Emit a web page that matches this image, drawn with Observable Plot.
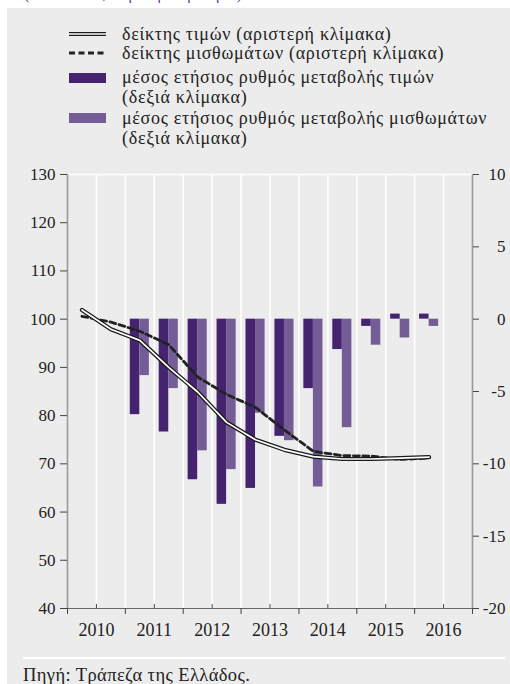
<!DOCTYPE html>
<html>
<head>
<meta charset="utf-8">
<script src="https://cdn.jsdelivr.net/npm/d3@7"></script>
<script src="https://cdn.jsdelivr.net/npm/@observablehq/plot@0.6"></script>
<style>
  html, body { margin: 0; padding: 0; background: #ffffff; }
  #wrap { position: relative; width: 510px; height: 684px; overflow: hidden; font-family: "Liberation Serif", "Times New Roman", Tinos, "DejaVu Serif", serif; color: #222; }
  #title { position: absolute; left: 24px; top: -15px; font-size: 16px; color: #5b3d91; white-space: nowrap; }
  #panel { position: absolute; left: 7px; top: 8px; width: 503px; height: 676px; background: #ececec; }
  .leg { position: absolute; left: 122px; font-size: 18px; line-height: 20px; letter-spacing: 0.7px; white-space: nowrap; }
  #chart { position: absolute; left: 0; top: 150px; }
  #chart svg text { font-family: "Liberation Serif", "Times New Roman", Tinos, "DejaVu Serif", serif; }
  #rule { position: absolute; left: 23px; top: 657px; width: 482px; height: 2px; background: #fff; }
  #caption { position: absolute; left: 23px; top: 665px; font-size: 18.5px; letter-spacing: 0.4px; white-space: nowrap; }
</style>
</head>
<body>
<div id="wrap">
  <div id="title">(2010 = 100, ετήσια μεταβολή %)</div>
  <div id="panel"></div>
  <div id="legend"></div>
  <div id="chart"></div>
  <div id="rule"></div>
  <div id="caption">Πηγή: Τράπεζα της Ελλάδος.</div>
</div>
<script>
// ---- data ----
const periods = ["2010-H1","2010-H2","2011-H1","2011-H2","2012-H1","2012-H2","2013-H1","2013-H2","2014-H1","2014-H2","2015-H1","2015-H2","2016-H1"];
const priceIndex = [101.9, 97.9, 95.6, 90.0, 84.9, 78.6, 75.0, 72.9, 71.5, 71.0, 71.0, 71.2, 71.4];
const rentIndex  = [100.6, 99.4, 97.5, 94.7, 88.0, 84.4, 81.7, 77.0, 72.6, 71.7, 71.6, 70.9, 71.2];
const barPeriods = ["2011-H1","2011-H2","2012-H1","2012-H2","2013-H1","2013-H2","2014-H1","2014-H2","2015-H1","2015-H2","2016-H1"];
const priceChange = [-6.6, -7.8, -11.1, -12.8, -11.7, -8.1, -4.8, -2.1, -0.5, 0.35, 0.35];
const rentChange  = [-3.9, -4.8, -9.1, -10.4, -6.5, -8.4, -11.6, -7.5, -1.8, -1.3, -0.5];
const years = [2010, 2011, 2012, 2013, 2014, 2015, 2016];
const leftTicks = [40, 50, 60, 70, 80, 90, 100, 110, 120, 130];
const rightTicks = [-20, -15, -10, -5, 0, 5, 10];
const legendLabels = [
  "δείκτης τιμών (αριστερή κλίμακα)",
  "δείκτης μισθωμάτων (αριστερή κλίμακα)",
  "μέσος ετήσιος ρυθμός μεταβολής τιμών",
  "(δεξιά κλίμακα)",
  "μέσος ετήσιος ρυθμός μεταβολής μισθωμάτων",
  "(δεξιά κλίμακα)"
];

// ---- colours ----
const darkPurple = "#46236f";
const lightPurple = "#745c97";

// ---- derived tables ----
const toX = p => +p.slice(0, 4) + (p.endsWith("H1") ? 0.25 : 0.75);
const lineData = periods.map((p, i) => ({x: toX(p), price: priceIndex[i], rent: rentIndex[i]}));
const barData = barPeriods.map((p, i) => ({x: toX(p), price: priceChange[i], rent: rentChange[i]}));
const rightToLeft = r => 100 + 3 * r; // right scale 0 ↔ left 100, 30 units ↔ 90 units
const bounds = years.concat([years[years.length - 1] + 1]);
const mids = years.map(y => y + 0.5);
const grid = years.flatMap(y => [y + 0.5, y + 1]).filter(v => v < bounds[bounds.length - 1]);
const barW = 0.165;

const chart = Plot.plot({
  width: 510,
  height: 490,
  marginLeft: 67,
  marginRight: 38,
  marginTop: 24,
  marginBottom: 32,
  style: {fontSize: "17px", color: "#222", background: "transparent", overflow: "visible"},
  x: {type: "linear", domain: [bounds[0], bounds[bounds.length - 1]], axis: null},
  y: {domain: [40, 130], axis: null},
  marks: [
    Plot.ruleX(grid, {stroke: "#ffffff", strokeWidth: 1.6}),
    Plot.ruleY([130], {stroke: "#ffffff", strokeWidth: 1.6}),
    Plot.rectY(barData, {x1: d => d.x - barW, x2: d => d.x, y1: d => 100, y2: d => rightToLeft(d.price), fill: darkPurple}),
    Plot.rectY(barData, {x1: d => d.x, x2: d => d.x + barW, y1: d => 100, y2: d => rightToLeft(d.rent), fill: lightPurple}),
    Plot.line(lineData, {x: "x", y: "rent", stroke: "#222", strokeWidth: 2.8, strokeDasharray: "6,3.5"}),
    Plot.line(lineData, {x: "x", y: "price", stroke: "#1a1a1a", strokeWidth: 4.2}),
    Plot.line(lineData, {x: "x", y: "price", stroke: "#ffffff", strokeWidth: 1.7}),
    Plot.ruleX([bounds[0], bounds[bounds.length - 1]], {stroke: "#9a9a9a", strokeWidth: 1.6}),
    Plot.ruleY([40], {stroke: "#666", strokeWidth: 1.2}),
    Plot.axisY({anchor: "left", ticks: leftTicks, tickSize: 7, tickPadding: 5, stroke: "#444", fill: "#222", label: null}),
    Plot.axisY({anchor: "right", ticks: rightTicks.map(rightToLeft), tickFormat: d => String(Math.round((d - 100) / 3)), tickSize: 6, tickPadding: 27, textAnchor: "end", stroke: "#444", fill: "#222", label: null}),
    Plot.axisX({anchor: "bottom", ticks: bounds, tickSize: 6, tickFormat: () => "", stroke: "#444", label: null}),
    Plot.axisX({anchor: "bottom", ticks: mids, tickSize: 4, dy: -4, tickFormat: () => "", stroke: "#444", label: null}),
    Plot.axisX({anchor: "bottom", ticks: mids, tickSize: 0, tickPadding: 15, tickFormat: d => String(Math.floor(d)), fill: "#222", fontSize: 18, label: null})
  ]
});
document.getElementById("chart").appendChild(chart);

// ---- legend ----
const legend = document.getElementById("legend");
const rows = [24, 43, 67, 87, 108, 128];
legendLabels.forEach((t, i) => {
  const d = document.createElement("div");
  d.className = "leg";
  d.style.top = rows[i] + "px";
  d.textContent = t;
  legend.appendChild(d);
});
const ns = "http://www.w3.org/2000/svg";
function swatch(top, h, draw) {
  const s = document.createElementNS(ns, "svg");
  s.setAttribute("width", 38);
  s.setAttribute("height", h);
  s.style.position = "absolute";
  s.style.left = "69px";
  s.style.top = top + "px";
  s.innerHTML = draw;
  legend.appendChild(s);
}
swatch(30, 8, '<line x1="0" x2="37" y1="4" y2="4" stroke="#1a1a1a" stroke-width="4.2"/><line x1="0" x2="37" y1="4" y2="4" stroke="#fff" stroke-width="1.7"/>');
swatch(49, 8, '<line x1="0" x2="37" y1="4" y2="4" stroke="#222" stroke-width="2.8" stroke-dasharray="6,3.5"/>');
swatch(73, 10, `<rect x="0" y="0" width="37" height="10" fill="${darkPurple}"/>`);
swatch(113, 10, `<rect x="0" y="0" width="37" height="10" fill="${lightPurple}"/>`);
</script>
</body>
</html>
